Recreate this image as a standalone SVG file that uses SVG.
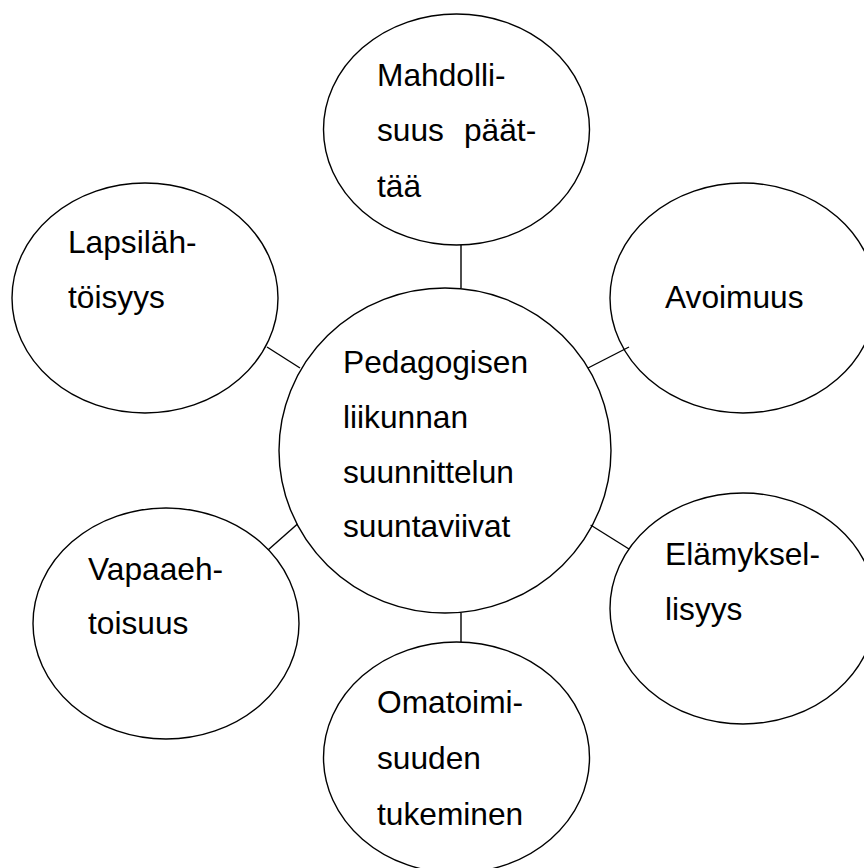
<svg xmlns="http://www.w3.org/2000/svg" width="864" height="868" viewBox="0 0 864 868">
<style>
.n{fill:#fff;stroke:#000;stroke-width:1.4}
.c line{stroke:#000;stroke-width:1.4}
text{font-family:"Liberation Sans",Arial,sans-serif;font-size:31.7px;fill:#000}
</style>
<rect width="864" height="868" fill="#fff"/>
<g id="node-top">
<ellipse class="n" cx="456.5" cy="129.5" rx="133" ry="115.5"/>
<text x="377" y="86">Mahdolli-</text>
<text x="377" y="141">suus</text>
<text x="464" y="141">päät-</text>
<text x="377" y="197">tää</text>
</g>
<g id="node-upleft">
<ellipse class="n" cx="145" cy="298" rx="133" ry="115"/>
<text x="68" y="253">Lapsiläh-</text>
<text x="68" y="308">töisyys</text>
</g>
<g id="node-upright">
<ellipse class="n" cx="743" cy="298" rx="133" ry="115"/>
<text x="665" y="308">Avoimuus</text>
</g>
<g id="node-center">
<ellipse class="n" cx="445" cy="450.5" rx="166" ry="162.5"/>
<text x="343" y="373">Pedagogisen</text>
<text x="343" y="428">liikunnan</text>
<text x="343" y="483">suunnittelun</text>
<text x="343" y="537">suuntaviivat</text>
</g>
<g id="node-lowleft">
<ellipse class="n" cx="166" cy="623.5" rx="133" ry="115.5"/>
<text x="88" y="580">Vapaaeh-</text>
<text x="88" y="634">toisuus</text>
</g>
<g id="node-lowright">
<ellipse class="n" cx="743" cy="608.5" rx="133" ry="115.5"/>
<text x="665" y="565">Elämyksel-</text>
<text x="665" y="620">lisyys</text>
</g>
<g id="node-bottom">
<ellipse class="n" cx="456.5" cy="757.5" rx="133" ry="115.5"/>
<text x="377" y="713">Omatoimi-</text>
<text x="377" y="769">suuden</text>
<text x="377" y="825">tukeminen</text>
</g>
<g id="connectors" class="c">
<line x1="461" y1="245" x2="461" y2="288"/>
<line x1="267" y1="347" x2="300" y2="368"/>
<line x1="588" y1="368" x2="629" y2="347"/>
<line x1="268" y1="550" x2="297.5" y2="524"/>
<line x1="590.6" y1="525" x2="629" y2="549"/>
<line x1="461" y1="613" x2="461" y2="642"/>
</g>
</svg>
